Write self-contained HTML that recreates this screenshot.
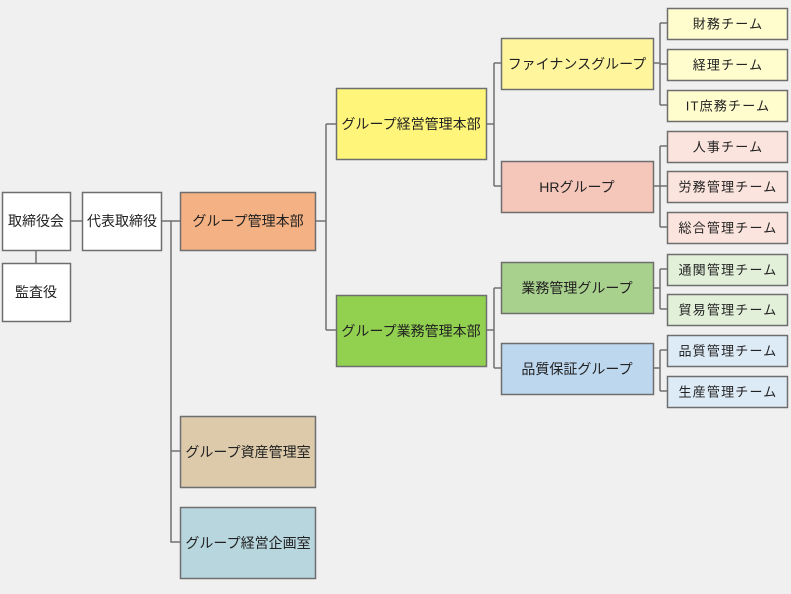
<!DOCTYPE html>
<html><head><meta charset="utf-8"><style>
html,body{margin:0;padding:0;background:#f0f0f0;}
svg{display:block;}
text{font-family:"Liberation Sans","Noto Sans CJK JP",sans-serif;font-size:14px;fill:#222;text-anchor:middle;dominant-baseline:central;}
.t text{font-size:13px;letter-spacing:1.2px;}
</style></head><body>
<svg width="791" height="594" viewBox="0 0 791 594" xmlns="http://www.w3.org/2000/svg">
<rect width="791" height="594" fill="#f0f0f0"/>
<g stroke="#707070" stroke-width="1.5" fill="none">
<path d="M70 221H82M36 250V263M161 221H180M171 221V542H180M171 451H180"/>
<path d="M316 221H326M326 124V330M326 124H336M326 330H336"/>
<path d="M486 124H494M494 63V186M494 63H501M494 186H501"/>
<path d="M486 330H494M494 288V368M494 288H501M494 368H501"/>
<path d="M653 63H660M660 23V105M660 23H667M660 64H667M660 105H667"/>
<path d="M653 186H660M660 146V227M660 146H667M660 186H667M660 227H667"/>
<path d="M653 288H660M660 269V309M660 269H667M660 309H667"/>
<path d="M653 368H660M660 350V391M660 350H667M660 391H667"/>
</g>
<g stroke="#6e6e6e" stroke-width="1.5">
<rect x="2.5" y="192.5" width="68" height="58" fill="#fff"/>
<rect x="2.5" y="263.5" width="68" height="58" fill="#fff"/>
<rect x="82.5" y="192.5" width="79" height="58" fill="#fff"/>
<rect x="180.5" y="192.5" width="135" height="58" fill="#f4b183"/>
<rect x="180.5" y="416.5" width="135" height="71" fill="#dccaaa"/>
<rect x="180.5" y="507.5" width="135" height="71" fill="#b7d6de"/>
<rect x="336.5" y="88.5" width="150" height="71" fill="#fff57a"/>
<rect x="336.5" y="295.5" width="150" height="71" fill="#92d050"/>
<rect x="501.5" y="38.5" width="152" height="51" fill="#fff59d"/>
<rect x="501.5" y="161.5" width="152" height="51" fill="#f5c6ba"/>
<rect x="501.5" y="262.5" width="152" height="51" fill="#a9d18e"/>
<rect x="501.5" y="343.5" width="152" height="51" fill="#bdd7ee"/>
<g fill="#fffcce"><rect x="667.5" y="8.5" width="120" height="31"/><rect x="667.5" y="49.5" width="120" height="31"/><rect x="667.5" y="90.5" width="120" height="31"/></g>
<g fill="#fbe4dd"><rect x="667.5" y="131.5" width="120" height="31"/><rect x="667.5" y="171.5" width="120" height="31"/><rect x="667.5" y="212.5" width="120" height="31"/></g>
<g fill="#e2efd9"><rect x="667.5" y="254.5" width="120" height="31"/><rect x="667.5" y="294.5" width="120" height="31"/></g>
<g fill="#ddebf7"><rect x="667.5" y="335.5" width="120" height="31"/><rect x="667.5" y="376.5" width="120" height="31"/></g>
</g>
<text x="36" y="221">取締役会</text>
<text x="36" y="292">監査役</text>
<text x="122" y="221">代表取締役</text>
<text x="248" y="221">グループ管理本部</text>
<text x="248" y="452">グループ資産管理室</text>
<text x="248" y="543">グループ経営企画室</text>
<text x="411" y="124">グループ経営管理本部</text>
<text x="411" y="331">グループ業務管理本部</text>
<text x="577" y="64">ファイナンスグループ</text>
<text x="577" y="187">HRグループ</text>
<text x="577" y="288">業務管理グループ</text>
<text x="577" y="369">品質保証グループ</text>
<g class="t">
<text x="728" y="24">財務チーム</text>
<text x="728" y="65">経理チーム</text>
<text x="728" y="106">IT庶務チーム</text>
<text x="728" y="147">人事チーム</text>
<text x="728" y="187">労務管理チーム</text>
<text x="728" y="228">総合管理チーム</text>
<text x="728" y="270">通関管理チーム</text>
<text x="728" y="310">貿易管理チーム</text>
<text x="728" y="351">品質管理チーム</text>
<text x="728" y="392">生産管理チーム</text>
</g>
</svg>
</body></html>
